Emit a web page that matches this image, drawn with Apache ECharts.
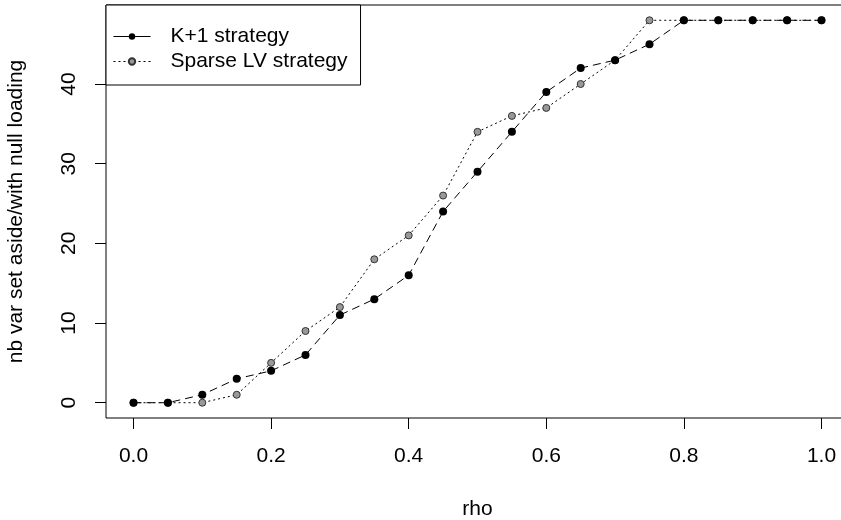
<!DOCTYPE html>
<html>
<head>
<meta charset="utf-8">
<script src="https://cdn.jsdelivr.net/npm/echarts@6/dist/echarts.min.js"></script>
<style>
  html, body { margin: 0; padding: 0; background: #fff; }
  #main { width: 841px; height: 520px; }
</style>
</head>
<body>
<div id="main"></div>
<script>
// rho values and the two strategies
var rho = [0, 0.05, 0.1, 0.15, 0.2, 0.25, 0.3, 0.35, 0.4, 0.45, 0.5,
           0.55, 0.6, 0.65, 0.7, 0.75, 0.8, 0.85, 0.9, 0.95, 1.0];
var kPlus1 = [0, 0, 1, 3, 4, 6, 11, 13, 16, 24, 29, 34, 39, 42, 43, 45, 48, 48, 48, 48, 48];
var sparseLV = [0, 0, 0, 1, 5, 9, 12, 18, 21, 26, 34, 36, 37, 40, 43, 48, 48, 48, 48, 48, 48];
var xTicks = [0, 0.2, 0.4, 0.6, 0.8, 1.0];
var yTicks = [0, 10, 20, 30, 40];
var seriesNames = ['K+1 strategy', 'Sparse LV strategy'];

function pairs(ys) {
  return rho.map(function (x, i) { return [x, ys[i]]; });
}

var font = 'Liberation Sans, Arial, sans-serif';
var fs = 21;
var chart = echarts.init(document.getElementById('main'));
chart.setOption({
  animation: false,
  backgroundColor: '#fff',
  grid: {
    left: 106, top: 5, width: 743, bottom: 102,
    outerBoundsMode: 'none',
    containLabel: false,
    show: true, borderColor: '#000', borderWidth: 1
  },
  legend: {
    orient: 'vertical',
    left: 106, top: 5,
    padding: [21, 13, 13, 7],
    itemWidth: 37, itemHeight: 8, itemGap: 4,
    borderColor: '#000', borderWidth: 1, borderRadius: 0,
    backgroundColor: '#fff',
    z: 10,
    textStyle: { fontFamily: font, fontSize: fs, color: '#000', padding: [0, 0, 0, 15] },
    data: [
      { name: seriesNames[0], lineStyle: { type: 'solid', width: 1, color: '#000' } },
      { name: seriesNames[1], lineStyle: { type: [2, 3], width: 1, color: '#000' } }
    ]
  },
  xAxis: {
    type: 'value', min: -0.04, max: 1.04,
    name: 'rho', nameLocation: 'middle', nameGap: 81,
    nameTextStyle: { fontFamily: font, fontSize: fs, color: '#000' },
    splitLine: { show: false },
    axisLine: { show: false, onZero: false },
    axisTick: { show: true, length: 11, customValues: xTicks, lineStyle: { color: '#000' } },
    axisLabel: {
      customValues: xTicks, margin: 28,
      fontFamily: font, fontSize: fs, color: '#000',
      formatter: function (v) { return v.toFixed(1); }
    }
  },
  yAxis: {
    type: 'value', min: -1.92, max: 49.92,
    name: 'nb var set aside/with null loading', nameLocation: 'middle', nameGap: 79,
    nameTextStyle: { fontFamily: font, fontSize: fs, color: '#000' },
    splitLine: { show: false },
    axisLine: { show: false, onZero: false },
    axisTick: { show: true, length: 11, customValues: yTicks, lineStyle: { color: '#000' } },
    axisLabel: {
      customValues: yTicks, margin: 26, rotate: 90,
      fontFamily: font, fontSize: fs, color: '#000'
    }
  },
  series: [
    {
      name: seriesNames[0], type: 'line', data: pairs(kPlus1),
      symbol: 'circle', symbolSize: 8,
      itemStyle: { color: '#000' },
      lineStyle: { color: '#000', width: 1, type: [8, 5] },
      z: 3
    },
    {
      name: seriesNames[1], type: 'line', data: pairs(sparseLV),
      symbol: 'circle', symbolSize: 7,
      itemStyle: { color: '#999', borderColor: '#333', borderWidth: 1 },
      lineStyle: { color: '#000', width: 1, type: [2, 3] },
      z: 2
    }
  ]
});
</script>
</body>
</html>
